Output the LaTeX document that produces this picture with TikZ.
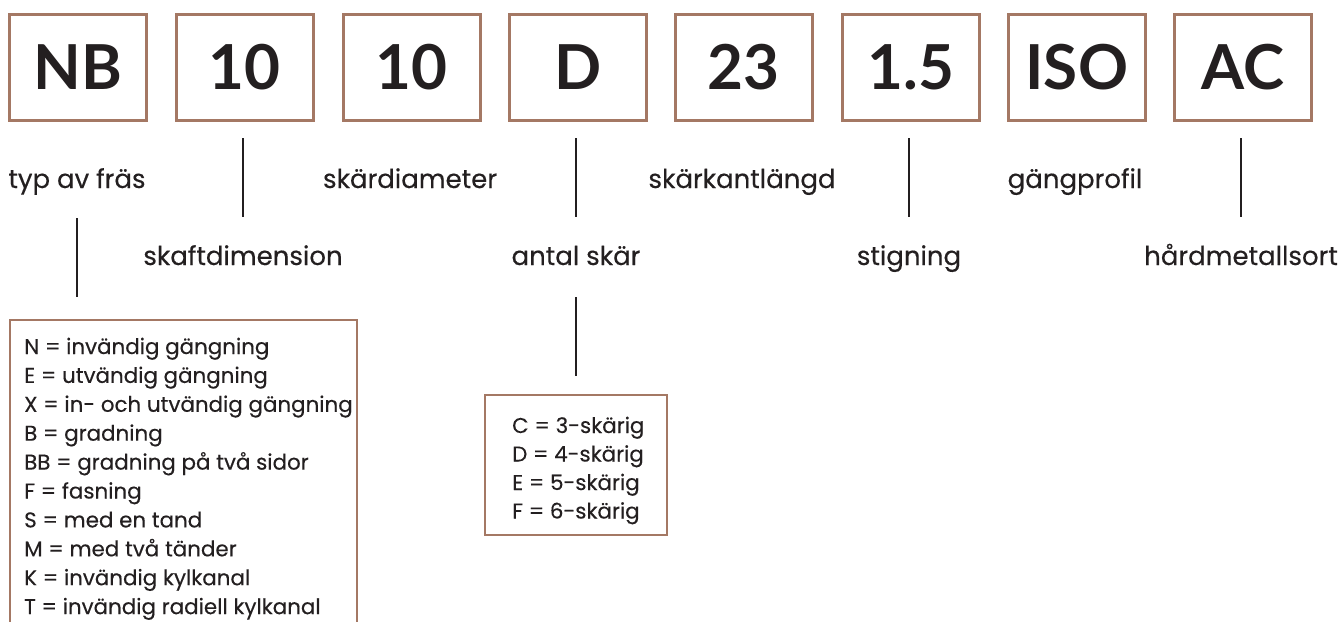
\documentclass[tikz,border=0pt]{standalone}
\usepackage{fontspec}
\setmainfont{Lato}
\newfontfamily\bodyfont{Poppins}[FakeBold=0.3]
\definecolor{frame}{RGB}{164,120,100}
\definecolor{ink}{RGB}{35,31,32}
\begin{document}
\begin{tikzpicture}[x=1pt,y=-1pt,
  code/.style={draw=frame,line width=2.6pt,minimum width=137pt,minimum height=106pt,
    anchor=north west,text=ink,font=\fontsize{62}{62}\selectfont\bfseries},
  lbl/.style={anchor=base,text=ink,font=\bodyfont\fontsize{26}{30}\selectfont,inner sep=0pt},
  legtext/.style={anchor=base west,text=ink,
    font=\bodyfont\fontsize{21.4}{28}\selectfont,inner sep=0pt},
  legframe/.style={draw=frame,line width=2.2pt},
  tick/.style={draw=ink,line width=2.4pt}]
\useasboundingbox (0,0) rectangle (1343,621);
\clip (0,0) rectangle (1343,621);

% code boxes
\node[code] (b1) at (8,13) {NB};
\node[code] (b2) at (175,13) {10};
\node[code] (b3) at (342,13) {10};
\node[code] (b4) at (508,13) {D};
\node[code] (b5) at (674,13) {23};
\node[code] (b6) at (841,13) {1.5};
\node[code] (b7) at (1007,13) {ISO};
\node[code] (b8) at (1173,13) {AC};

% first label row
\node[lbl] (l1) at (77,188) {typ av fräs};
\node[lbl] (l3) at (410,188) {skärdiameter};
\node[lbl] (l5) at (742,188) {skärkantlängd};
\node[lbl] (l7) at (1075,188) {gängprofil};

% second label row
\node[lbl] (l2) at (243,265) {skaftdimension};
\node[lbl] (l4) at (576,265) {antal skär};
\node[lbl] (l6) at (909,265) {stigning};
\node[lbl] (l8) at (1241,265) {hårdmetallsort};

% connector ends
\coordinate (t2a) at (243,138); \coordinate (t2b) at (243,217);
\coordinate (t4a) at (576,138); \coordinate (t4b) at (576,217);
\coordinate (t6a) at (909,138); \coordinate (t6b) at (909,217);
\coordinate (t8a) at (1241,138); \coordinate (t8b) at (1241,217);
\coordinate (t1a) at (77,218); \coordinate (t1b) at (77,297);
\coordinate (t4c) at (576,297); \coordinate (t4d) at (576,376);

\draw[tick] (t2a) -- (t2b);
\draw[tick] (t4a) -- (t4b);
\draw[tick] (t6a) -- (t6b);
\draw[tick] (t8a) -- (t8b);
\draw[tick] (t1a) -- (t1b);
\draw[tick] (t4c) -- (t4d);

% legend: cutter types
\draw[legframe] (10,320) rectangle (357,640);
\foreach \t [count=\i] in {N = invändig gängning, E = utvändig gängning,
    X = in- och utvändig gängning, B = gradning, BB = gradning på två sidor,
    F = fasning, S = med en tand, M = med två tänder, K = invändig kylkanal,
    T = invändig radiell kylkanal}
  \node[legtext] (ta\i) at (24,{354+28.9*(\i-1)}) {\t};

% legend: number of flutes
\draw[legframe] (485,395) rectangle (667,535);
\foreach \t [count=\i] in {C = 3-skärig, D = 4-skärig, E = 5-skärig, F = 6-skärig}
  \node[legtext] (tb\i) at (512,{433+28.5*(\i-1)}) {\t};
\end{tikzpicture}
\end{document}
